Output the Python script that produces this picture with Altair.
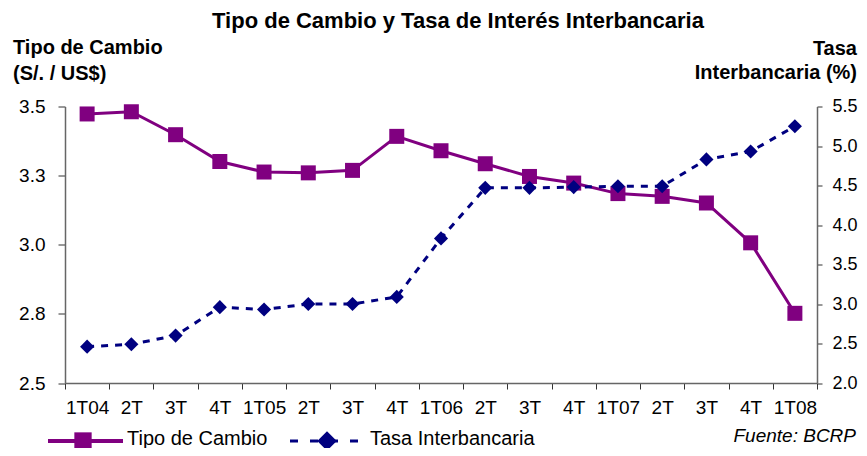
import altair as alt
import pandas as pd

# ---- data -----------------------------------------------------------------
periodos = ["1T04", "2T", "3T", "4T", "1T05", "2T", "3T", "4T", "1T06",
            "2T", "3T", "4T", "1T07", "2T", "3T", "4T", "1T08"]
tipo_cambio = [3.473, 3.481, 3.398, 3.301, 3.263, 3.260, 3.269, 3.392, 3.340,
               3.293, 3.247, 3.223, 3.185, 3.175, 3.151, 3.007, 2.752]
tasa_interbancaria = [2.46, 2.49, 2.60, 2.96, 2.93, 3.00, 3.00, 3.09, 3.83,
                      4.47, 4.47, 4.48, 4.49, 4.49, 4.83, 4.93, 5.25]
ticks_tc = [2.5, 2.75, 3.0, 3.25, 3.5]
ticks_tasa = [2.0, 2.5, 3.0, 3.5, 4.0, 4.5, 5.0, 5.5]

df = pd.DataFrame({
    "id": list(range(len(periodos))),
    "periodo": periodos,
    "tc": tipo_cambio,
    "tasa": tasa_interbancaria,
})
one = pd.DataFrame({"a": [0]})

FONT = "Liberation Sans"
PURPLE = "#800080"
NAVY = "#000080"

label_map = "{" + ",".join(f"'{i}':'{p}'" for i, p in enumerate(periodos)) + "}"

x_enc = alt.X(
    "id:O",
    scale=alt.Scale(type="band", paddingInner=0, paddingOuter=0),
    axis=alt.Axis(
        title=None, labelExpr=f"{label_map}[datum.value]", labelAngle=0,
        labelFont=FONT, labelFontSize=19, labelColor="#000",
        labelPadding=9, tickSize=6, tickBand="extent", tickColor="#333",
        domainColor="#666", domainWidth=1.5, grid=False,
    ),
)

y_left = alt.Y(
    "tc:Q",
    scale=alt.Scale(domain=[2.5, 3.5], nice=False, zero=False),
    axis=alt.Axis(
        title=None, values=ticks_tc, labelExpr="format(datum.value, '.1f')",
        labelFont=FONT, labelFontSize=19, labelColor="#000",
        labelPadding=13, tickSize=7, tickColor="#333",
        domainColor="#666", domainWidth=1.5, grid=False,
    ),
)

y_right = alt.Y(
    "tasa:Q",
    scale=alt.Scale(domain=[2.0, 5.5], nice=False, zero=False),
    axis=alt.Axis(
        title=None, orient="right", values=ticks_tasa, format=".1f",
        labelFont=FONT, labelFontSize=18, labelColor="#000",
        labelPadding=10, tickSize=5, tickColor="#333",
        domainColor="#666", domainWidth=1.5, grid=False,
    ),
)

base = alt.Chart(df)

tc_line = base.mark_line(color=PURPLE, strokeWidth=3).encode(x=x_enc, y=y_left)
tc_pts = base.mark_point(shape="square", filled=True, size=225, color=PURPLE,
                         opacity=1).encode(x=x_enc, y=y_left)
tc_layer = alt.layer(tc_line, tc_pts)

tasa_line = base.mark_line(color=NAVY, strokeWidth=3, strokeDash=[7, 7]).encode(
    x=x_enc, y=y_right)
tasa_pts = base.mark_point(shape="diamond", filled=True, size=200, color=NAVY,
                           opacity=1).encode(x=x_enc, y=y_right)
tasa_layer = alt.layer(tasa_line, tasa_pts)


def txt(text, x, y, size, align="left", weight="normal", style="normal"):
    return alt.Chart(one).mark_text(
        font=FONT, fontSize=size, fontWeight=weight, fontStyle=style,
        align=align, baseline="alphabetic", color="#000",
    ).encode(text=alt.value(text), x=alt.value(x), y=alt.value(y))


titles = [
    txt("Tipo de Cambio y Tasa de Interés Interbancaria", 393, -79, 22,
        align="center", weight="bold"),
    txt("Tipo de Cambio", -52, -52.5, 20, weight="bold"),
    txt("(S/. / US$)", -52, -26.5, 20, weight="bold"),
    txt("Tasa", 792, -51.5, 20, align="right", weight="bold"),
    txt("Interbancaria (%)", 792, -27.5, 20, align="right", weight="bold"),
    txt("Tipo de Cambio", 62, 338, 20),
    txt("Tasa Interbancaria", 305, 338, 20),
    txt("Fuente: BCRP", 791, 335.5, 19, align="right", style="italic"),
]

leg_rule1 = alt.Chart(one).mark_rule(color=PURPLE, strokeWidth=4).encode(
    x=alt.value(-17), x2=alt.value(58), y=alt.value(334.5))
leg_pt1 = alt.Chart(one).mark_point(shape="square", filled=True, size=300,
                                    color=PURPLE, opacity=1).encode(
    x=alt.value(18), y=alt.value(334.5))
leg_rule2 = alt.Chart(one).mark_rule(color=NAVY, strokeWidth=3,
                                     strokeDash=[8, 12]).encode(
    x=alt.value(225), x2=alt.value(297), y=alt.value(334.5))
leg_pt2 = alt.Chart(one).mark_point(shape="diamond", filled=True, size=380,
                                    color=NAVY, opacity=1).encode(
    x=alt.value(262), y=alt.value(334.5))

chart = alt.layer(
    tc_layer, tasa_layer, *titles, leg_rule1, leg_pt1, leg_rule2, leg_pt2
).resolve_scale(y="independent").properties(
    width=752, height=276.5,
    autosize=alt.AutoSizeParams(type="none"),
    padding={"left": 57, "top": 98.5, "right": 42, "bottom": 65},
    background="white",
).configure_view(strokeWidth=0)

chart.save("out.html", embed_options={"renderer": "svg", "actions": False})
